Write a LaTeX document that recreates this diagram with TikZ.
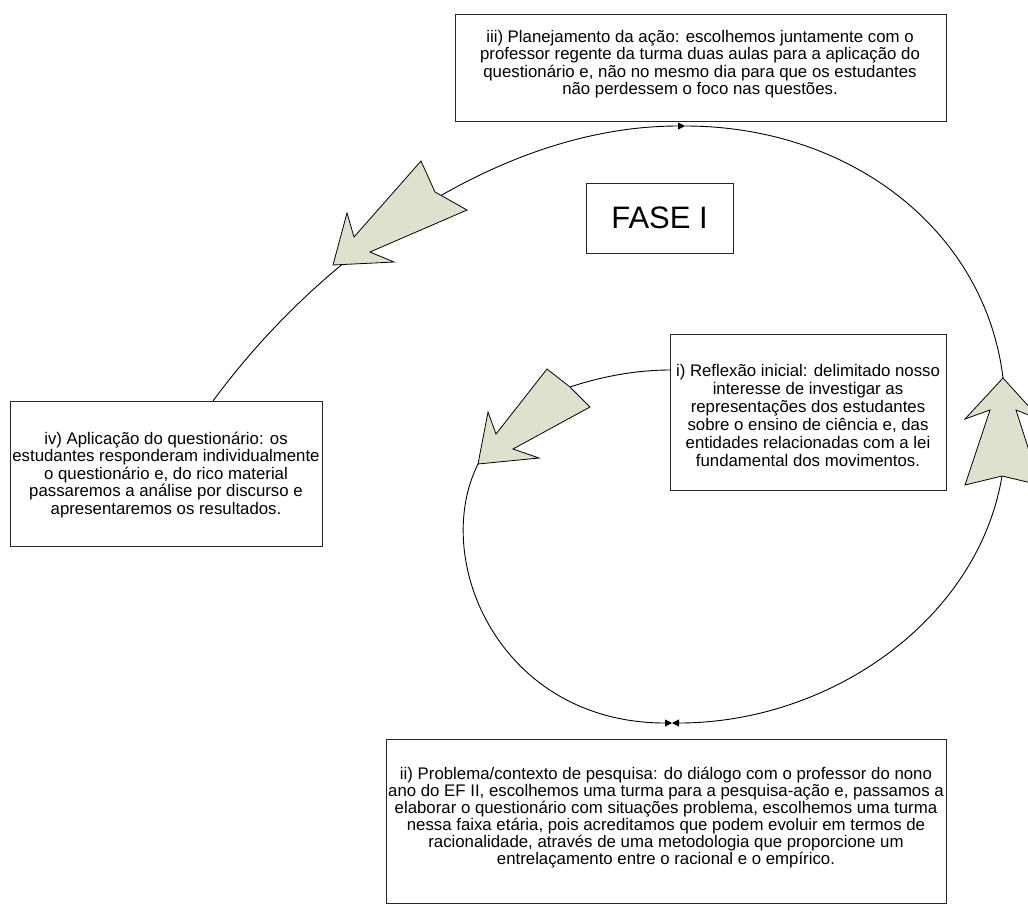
\documentclass[tikz,border=0pt]{standalone}
\usepackage{fontspec}
\setmainfont{Liberation Sans}
\usetikzlibrary{arrows.meta}
\definecolor{arrowfill}{RGB}{221,225,205}
\tikzset{smalltri/.tip={Triangle[length=7pt,width=7pt]}}
\begin{document}
\begin{tikzpicture}[x=1pt,y=-1pt,
  box/.style={draw=black!85, line width=1pt, inner sep=0pt},
  txt/.style={align=center, inner sep=0pt, font=\fontsize{16.8}{17}\selectfont},
  flow/.style={draw=black, line width=0.9pt},
  blockarrow/.style={draw=black, fill=arrowfill, line width=0.8pt, line join=miter}]
\useasboundingbox (0,0) rectangle (1028,911);
\clip (0,0) rectangle (1028,911);

% stage boxes
\node[box, minimum width=491pt, minimum height=107pt] (plan) at (700.5,67.5) {};
\node[txt, font=\fontsize{16.8}{17.5}\selectfont] (plantext) at (700,64) {iii) Planejamento da ação: escolhemos juntamente com o\\
professor regente da turma duas aulas para a aplicação do\\
questionário e, não no mesmo dia para que os estudantes\\
não perdessem o foco nas questões.};

\node[box, minimum width=147pt, minimum height=70pt, font=\fontsize{31}{31}\selectfont] (fase) at (659.5,218) {FASE I};

\node[box, minimum width=276pt, minimum height=156pt] (refl) at (808,412) {};
\node[txt, font=\fontsize{16.8}{18}\selectfont] (refltext) at (808,415) {i) Reflexão inicial: delimitado nosso\\
interesse de investigar as\\
representações dos estudantes\\
sobre o ensino de ciência e, das\\
entidades relacionadas com a lei\\
fundamental dos movimentos.};

\node[box, minimum width=312pt, minimum height=145pt] (apl) at (166,473.5) {};
\node[txt, font=\fontsize{16.8}{17.5}\selectfont] (apltext) at (166,475) {iv) Aplicação do questionário: os\\
estudantes responderam individualmente\\
o questionário e, do rico material\\
passaremos a análise por discurso e\\
apresentaremos os resultados.};

\node[box, minimum width=560pt, minimum height=164pt] (prob) at (666,821) {};
\node[txt] (probtext) at (666,818) {ii) Problema/contexto de pesquisa: do diálogo com o professor do nono\\
ano do EF II, escolhemos uma turma para a pesquisa-ação e, passamos a\\
elaborar o questionário com situações problema, escolhemos uma turma\\
nessa faixa etária, pois acreditamos que podem evoluir em termos de\\
racionalidade, através de uma metodologia que proporcione um\\
entrelaçamento entre o racional e o empírico.};

% points along the cycle
\coordinate (a1) at (213,401);
\coordinate (T) at (685,126);
\coordinate (Ctip) at (1003,378);
\coordinate (Ctail) at (1002,476);
\coordinate (B) at (672,723);
\coordinate (Btip) at (478,464);
\coordinate (Btail) at (570,387);
\coordinate (a5) at (670,370);

% spiral connectors
\draw[flow, -{smalltri}] (a1) .. controls (320,255) and (500,126) .. (T);
\draw[flow] (T) .. controls (850,126) and (985,230) .. (Ctip);
\draw[flow, -{smalltri}] (Ctail) .. controls (978,620) and (830,723) .. (B);
\draw[flow, {smalltri}-] (B) .. controls (500,723) and (430,560) .. (Btip);
\draw[flow] (Btail) .. controls (600,377) and (635,370) .. (a5);

% block arrows along the cycle
\draw[blockarrow] (333,265) -- (347,213) -- (354,237) -- (421,161) -- (435,192)
  -- (467,210) -- (370,252) -- (394,262) -- cycle;
\draw[blockarrow] (478,464) -- (488,412) -- (496,434) -- (547,369) -- (570,387)
  -- (590,407) -- (513,449) -- (539,458) -- cycle;
\draw[blockarrow] (1003,378) -- (1041,420) -- (1016,410) -- (1040,485) -- (1002,476)
  -- (965,485) -- (990,410) -- (965,419) -- cycle;
\end{tikzpicture}
\end{document}
